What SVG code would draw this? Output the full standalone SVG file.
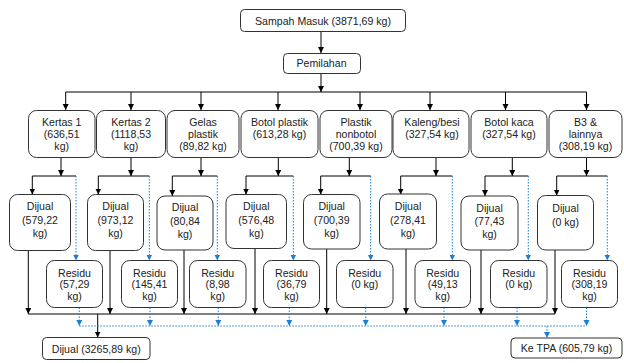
<svg xmlns="http://www.w3.org/2000/svg" width="624" height="363" viewBox="0 0 624 363">
<style>
.box{fill:#fff;stroke:#333;stroke-width:1}
.t{font-family:"Liberation Sans",Arial,sans-serif;font-size:10.6px;fill:#222;text-anchor:middle}
.c{fill:none;stroke:#000;stroke-width:1}
.b{fill:none;stroke:#1a7fd5;stroke-width:1;stroke-dasharray:1.5 1.5}
</style>
<defs>
<marker id="ak" markerUnits="userSpaceOnUse" markerWidth="7" markerHeight="7" refX="6" refY="3" orient="auto"><path d="M0,0 L6,3 L0,6 z" fill="#000"/></marker>
<marker id="ab" markerUnits="userSpaceOnUse" markerWidth="7" markerHeight="7" refX="6" refY="3" orient="auto"><path d="M0,0 L6,3 L0,6 z" fill="#1a7fd5"/></marker>
</defs>
<rect width="624" height="363" fill="#fff"/>
<g id="connectors">
<path class="c" d="M321,31.5 V53" marker-end="url(#ak)"/>
<path class="c" d="M321,73.5 V92" marker-end="url(#ak)"/>
<path class="c" d="M65.7,92 H586.5"/>
<path class="c" d="M65.7,92 V110" marker-end="url(#ak)"/>
<path class="c" d="M131,92 V110" marker-end="url(#ak)"/>
<path class="c" d="M201,92 V110" marker-end="url(#ak)"/>
<path class="c" d="M278,92 V110" marker-end="url(#ak)"/>
<path class="c" d="M360,92 V110" marker-end="url(#ak)"/>
<path class="c" d="M430,92 V110" marker-end="url(#ak)"/>
<path class="c" d="M505.5,92 V110" marker-end="url(#ak)"/>
<path class="c" d="M586.5,92 V110" marker-end="url(#ak)"/>
<!-- category to branch -->
<path class="c" d="M61,157.5 V176" marker-end="url(#ak)"/>
<path class="c" d="M131,157.5 V176" marker-end="url(#ak)"/>
<path class="c" d="M201,157.5 V176" marker-end="url(#ak)"/>
<path class="c" d="M278.3,157.5 V176" marker-end="url(#ak)"/>
<path class="c" d="M349.3,157.5 V176" marker-end="url(#ak)"/>
<path class="c" d="M436,157.5 V176" marker-end="url(#ak)"/>
<path class="c" d="M512.3,157.5 V176" marker-end="url(#ak)"/>
<path class="c" d="M586.5,157.5 V176" marker-end="url(#ak)"/>
<!-- branch horizontals and Dijual arrows -->
<path class="c" d="M76,176 H32.3 V194.5" marker-end="url(#ak)"/>
<path class="c" d="M149.3,176 H98.3 V194.5" marker-end="url(#ak)"/>
<path class="c" d="M217.3,176 H172.3 V196" marker-end="url(#ak)"/>
<path class="c" d="M293.3,176 H246 V194.5" marker-end="url(#ak)"/>
<path class="c" d="M370.7,176 H320.7 V194.5" marker-end="url(#ak)"/>
<path class="c" d="M452.3,176 H400.7 V194.5" marker-end="url(#ak)"/>
<path class="c" d="M528.3,176 H485 V196" marker-end="url(#ak)"/>
<path class="c" d="M607.3,176 H556.7 V195.5" marker-end="url(#ak)"/>
<!-- blue to residu -->
<path class="b" d="M76,176 V260.5" marker-end="url(#ab)"/>
<path class="b" d="M149.3,176 V260.5" marker-end="url(#ab)"/>
<path class="b" d="M217.3,176 V260.5" marker-end="url(#ab)"/>
<path class="b" d="M293.3,176 V260.5" marker-end="url(#ab)"/>
<path class="b" d="M370.7,176 V260.5" marker-end="url(#ab)"/>
<path class="b" d="M452.3,176 V260.5" marker-end="url(#ab)"/>
<path class="b" d="M528.3,176 V260.5" marker-end="url(#ab)"/>
<path class="b" d="M607.3,176 V260.5" marker-end="url(#ab)"/>
<!-- Dijual down to collector -->
<path class="c" d="M28.3,250.5 V314" marker-end="url(#ak)"/>
<path class="c" d="M110,250.5 V314" marker-end="url(#ak)"/>
<path class="c" d="M184,250 V314" marker-end="url(#ak)"/>
<path class="c" d="M255,248.5 V314" marker-end="url(#ak)"/>
<path class="c" d="M326.7,249 V314" marker-end="url(#ak)"/>
<path class="c" d="M406,249 V314" marker-end="url(#ak)"/>
<path class="c" d="M481,250 V314" marker-end="url(#ak)"/>
<path class="c" d="M555,250 V314" marker-end="url(#ak)"/>
<path class="c" d="M28.3,314 H555"/>
<path class="c" d="M97.7,314 V337.5" marker-end="url(#ak)"/>
<!-- Residu down to blue collector -->
<path class="b" d="M79.3,307.5 V326" marker-end="url(#ab)"/>
<path class="b" d="M150,307.5 V326" marker-end="url(#ab)"/>
<path class="b" d="M218.3,307.5 V326" marker-end="url(#ab)"/>
<path class="b" d="M289.3,307.5 V326" marker-end="url(#ab)"/>
<path class="b" d="M365.7,307.5 V326" marker-end="url(#ab)"/>
<path class="b" d="M444,307.5 V326" marker-end="url(#ab)"/>
<path class="b" d="M517,307.5 V326" marker-end="url(#ab)"/>
<path class="b" d="M586.5,307.5 V326" marker-end="url(#ab)"/>
<path class="b" d="M79.3,326 H586.5"/>
<path class="b" d="M547,326 V338" marker-end="url(#ab)"/>
</g>
<g id="sampah"><rect class="box" x="240.5" y="9.5" width="165" height="22" rx="4"/><text class="t" x="323" y="24.5">Sampah Masuk (3871,69 kg)</text></g>
<g id="pemilahan"><rect class="box" x="283.5" y="53.5" width="77" height="20" rx="4"/><text class="t" x="321.5" y="66.8">Pemilahan</text></g>
<g id="kertas1"><rect class="box" x="28.5" y="110.5" width="66.5" height="47" rx="8"/><text class="t" x="61.7" y="125.5">Kertas 1</text><text class="t" x="61.7" y="137.5">(636,51</text><text class="t" x="61.7" y="149.5">kg)</text></g>
<g id="kertas2"><rect class="box" x="96.5" y="110.5" width="69" height="47" rx="8"/><text class="t" x="131" y="125.5">Kertas 2</text><text class="t" x="131" y="137.5">(1118,53</text><text class="t" x="131" y="149.5">kg)</text></g>
<g id="gelas"><rect class="box" x="167" y="110.5" width="72" height="47" rx="8"/><text class="t" x="203" y="125.5">Gelas</text><text class="t" x="203" y="137.5">plastik</text><text class="t" x="203" y="149.5">(89,82 kg)</text></g>
<g id="botolplastik"><rect class="box" x="241" y="110.5" width="77" height="47" rx="8"/><text class="t" x="279.5" y="125.5">Botol plastik</text><text class="t" x="279.5" y="137.5">(613,28 kg)</text></g>
<g id="nonbotol"><rect class="box" x="320" y="110.5" width="72" height="47" rx="8"/><text class="t" x="356" y="125.5">Plastik</text><text class="t" x="356" y="137.5">nonbotol</text><text class="t" x="356" y="149.5">(700,39 kg)</text></g>
<g id="kaleng"><rect class="box" x="393" y="110.5" width="76" height="47" rx="8"/><text class="t" x="432" y="125.5">Kaleng/besi</text><text class="t" x="432" y="137.5">(327,54 kg)</text></g>
<g id="botolkaca"><rect class="box" x="471" y="110.5" width="76" height="47" rx="8"/><text class="t" x="509" y="125.5">Botol kaca</text><text class="t" x="509" y="137.5">(327,54 kg)</text></g>
<g id="b3"><rect class="box" x="549" y="110.5" width="73" height="47" rx="8"/><text class="t" x="585.5" y="125.5">B3 &amp;</text><text class="t" x="585.5" y="137.5">lainnya</text><text class="t" x="585.5" y="149.5">(308,19 kg)</text></g>
<g id="dijual1"><rect class="box" x="9.5" y="194.5" width="61" height="56" rx="8"/><text class="t" x="40" y="210">Dijual</text><text class="t" x="40" y="223.5">(579,22</text><text class="t" x="40" y="237">kg)</text></g>
<g id="dijual2"><rect class="box" x="87.5" y="194.5" width="56" height="56" rx="8"/><text class="t" x="115.5" y="210">Dijual</text><text class="t" x="115.5" y="223.5">(973,12</text><text class="t" x="115.5" y="237">kg)</text></g>
<g id="dijual3"><rect class="box" x="157" y="196" width="56" height="54" rx="8"/><text class="t" x="185" y="211">Dijual</text><text class="t" x="185" y="224.5">(80,84</text><text class="t" x="185" y="237.5">kg)</text></g>
<g id="dijual4"><rect class="box" x="226" y="194.5" width="60.5" height="54" rx="8"/><text class="t" x="256.3" y="210">Dijual</text><text class="t" x="256.3" y="223.5">(576,48</text><text class="t" x="256.3" y="237">kg)</text></g>
<g id="dijual5"><rect class="box" x="303.5" y="194.5" width="56.5" height="54.5" rx="8"/><text class="t" x="331.7" y="210">Dijual</text><text class="t" x="331.7" y="223.5">(700,39</text><text class="t" x="331.7" y="237">kg)</text></g>
<g id="dijual6"><rect class="box" x="379.5" y="194" width="57" height="55" rx="8"/><text class="t" x="408" y="210">Dijual</text><text class="t" x="408" y="223.5">(278,41</text><text class="t" x="408" y="237">kg)</text></g>
<g id="dijual7"><rect class="box" x="461" y="196" width="57" height="54" rx="8"/><text class="t" x="489.5" y="211.5">Dijual</text><text class="t" x="489.5" y="225">(77,43</text><text class="t" x="489.5" y="238">kg)</text></g>
<g id="dijual8"><rect class="box" x="537.5" y="195.5" width="56" height="54.5" rx="8"/><text class="t" x="565.5" y="211.5">Dijual</text><text class="t" x="565.5" y="226">(0 kg)</text></g>
<g id="residu1"><rect class="box" x="46.5" y="260.5" width="56" height="47" rx="8"/><text class="t" x="74.5" y="276.5">Residu</text><text class="t" x="74.5" y="288">(57,29</text><text class="t" x="74.5" y="299.5">kg)</text></g>
<g id="residu2"><rect class="box" x="121.5" y="260.5" width="56" height="47" rx="8"/><text class="t" x="149.5" y="276.5">Residu</text><text class="t" x="149.5" y="288">(145,41</text><text class="t" x="149.5" y="299.5">kg)</text></g>
<g id="residu3"><rect class="box" x="189.5" y="260.5" width="56.5" height="47" rx="8"/><text class="t" x="217.7" y="276.5">Residu</text><text class="t" x="217.7" y="288">(8,98</text><text class="t" x="217.7" y="299.5">kg)</text></g>
<g id="residu4"><rect class="box" x="263.5" y="260.5" width="56" height="47" rx="8"/><text class="t" x="291.5" y="276.5">Residu</text><text class="t" x="291.5" y="288">(36,79</text><text class="t" x="291.5" y="299.5">kg)</text></g>
<g id="residu5"><rect class="box" x="336.5" y="260.5" width="56.5" height="47" rx="8"/><text class="t" x="364.7" y="276.5">Residu</text><text class="t" x="364.7" y="288">(0 kg)</text></g>
<g id="residu6"><rect class="box" x="415" y="260.5" width="55.5" height="47" rx="8"/><text class="t" x="442.7" y="276.5">Residu</text><text class="t" x="442.7" y="288">(49,13</text><text class="t" x="442.7" y="299.5">kg)</text></g>
<g id="residu7"><rect class="box" x="490.5" y="260.5" width="56.5" height="47" rx="8"/><text class="t" x="518.7" y="276.5">Residu</text><text class="t" x="518.7" y="288">(0 kg)</text></g>
<g id="residu8"><rect class="box" x="561.5" y="260.5" width="56" height="47" rx="8"/><text class="t" x="589.5" y="276.5">Residu</text><text class="t" x="589.5" y="288">(308,19</text><text class="t" x="589.5" y="299.5">kg)</text></g>
<g id="dijualtotal"><rect class="box" x="42.5" y="337.5" width="107.5" height="22" rx="4"/><text class="t" x="96.2" y="352.5">Dijual (3265,89 kg)</text></g>
<g id="ketpa"><rect class="box" x="511" y="338" width="111" height="20" rx="4"/><text class="t" x="566.5" y="352.2">Ke TPA (605,79 kg)</text></g>
</svg>
